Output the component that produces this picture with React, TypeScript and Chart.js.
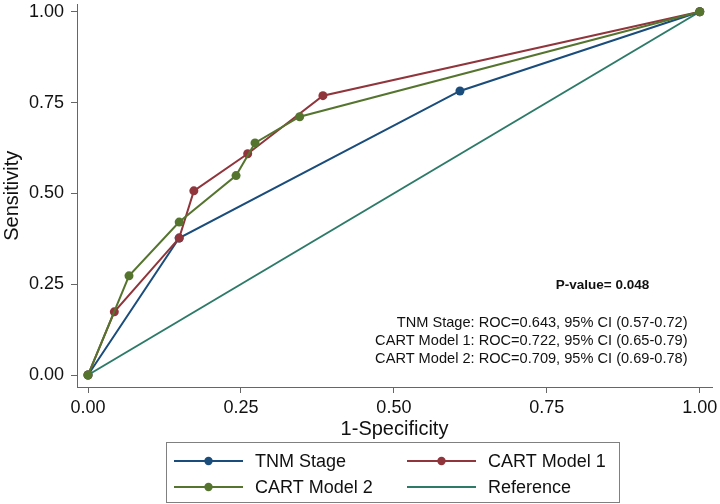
import React, { useEffect, useRef } from "react";
import { Chart, registerables } from "chart.js";

Chart.register(...registerables);

const FONT = "'Liberation Sans', Arial, sans-serif";

// ROC curve points (1-Specificity, Sensitivity)
const tnmX = [0, 0.149, 0.608, 1];
const tnmY = [0, 0.377, 0.782, 1];
const cart1X = [0, 0.043, 0.149, 0.173, 0.261, 0.384, 1];
const cart1Y = [0, 0.174, 0.377, 0.507, 0.609, 0.769, 1];
const cart2X = [0, 0.067, 0.149, 0.242, 0.273, 0.346, 1];
const cart2Y = [0, 0.273, 0.421, 0.549, 0.639, 0.711, 1];
const refX = [0, 1];
const refY = [0, 1];

const seriesNames = ["TNM Stage", "CART Model 1", "CART Model 2", "Reference"];
const seriesColors = ["#1a4d7c", "#90353b", "#55752f", "#2c7a67"];
const xTicks = [0, 0.25, 0.5, 0.75, 1];
const yTicks = [0, 0.25, 0.5, 0.75, 1];

const pValueText = "P-value= 0.048";
const rocTexts = [
  "TNM Stage: ROC=0.643, 95% CI (0.57-0.72)",
  "CART Model 1: ROC=0.722, 95% CI (0.65-0.79)",
  "CART Model 2: ROC=0.709, 95% CI (0.69-0.78)",
];

const toPts = (xs: number[], ys: number[]) => xs.map((x, i) => ({ x, y: ys[i] }));

export default function App() {
  const ref = useRef<HTMLCanvasElement | null>(null);

  useEffect(() => {
    if (!ref.current) return;

    const annotationPlugin = {
      id: "annot",
      afterDatasetsDraw(chart: any) {
        const { ctx, scales } = chart;
        const xs = scales.x, ys = scales.y;
        ctx.save();
        ctx.fillStyle = "#111";
        ctx.textBaseline = "middle";
        ctx.textAlign = "center";
        ctx.font = `bold 13.5px ${FONT}`;
        ctx.fillText(pValueText, xs.getPixelForValue(0.841), ys.getPixelForValue(0.248));
        ctx.font = `14.6px ${FONT}`;
        ctx.textAlign = "right";
        const rowY = [0.143, 0.094, 0.044];
        rocTexts.forEach((t, i) => {
          ctx.fillText(t, xs.getPixelForValue(0.98), ys.getPixelForValue(rowY[i]));
        });
        ctx.restore();
      },
    };

    const legendPlugin = {
      id: "boxLegend",
      afterDraw(chart: any) {
        const { ctx } = chart;
        const bx = 166, by = 442, bw = 453, bh = 60;
        ctx.save();
        ctx.strokeStyle = "#808080";
        ctx.lineWidth = 1;
        ctx.strokeRect(bx + 0.5, by + 0.5, bw, bh);
        const colX = [bx + 8, bx + 241];
        const rowY = [by + 19, by + 45];
        ctx.font = `18px ${FONT}`;
        ctx.textBaseline = "middle";
        ctx.textAlign = "left";
        seriesNames.forEach((name, i) => {
          const cx = colX[i % 2];
          const cy = rowY[Math.floor(i / 2)];
          ctx.strokeStyle = seriesColors[i];
          ctx.lineWidth = 2;
          ctx.beginPath();
          ctx.moveTo(cx, cy);
          ctx.lineTo(cx + 69, cy);
          ctx.stroke();
          if (i < 3) {
            ctx.fillStyle = seriesColors[i];
            ctx.beginPath();
            ctx.arc(cx + 34.5, cy, 4.2, 0, Math.PI * 2);
            ctx.fill();
          }
          ctx.fillStyle = "#111";
          ctx.fillText(name, cx + 81, cy + 1);
        });
        ctx.restore();
      },
    };

    const mk = (i: number, xs: number[], ys: number[], order: number, markers: boolean) => ({
      label: seriesNames[i],
      data: toPts(xs, ys),
      borderColor: seriesColors[i],
      backgroundColor: seriesColors[i],
      borderWidth: 2,
      pointRadius: markers ? 4.5 : 0,
      pointBorderWidth: 0,
      pointBackgroundColor: seriesColors[i],
      tension: 0,
      fill: false,
      order,
    });

    const chart = new Chart(ref.current, {
      type: "line",
      data: {
        datasets: [
          mk(0, tnmX, tnmY, 2, true),
          mk(1, cart1X, cart1Y, 1, true),
          mk(2, cart2X, cart2Y, 0, true),
          mk(3, refX, refY, 3, false),
        ],
      },
      options: {
        animation: false,
        responsive: false,
        devicePixelRatio: 1,
        layout: { padding: { left: 0, right: 8, top: 0, bottom: 62 } },
        plugins: { legend: { display: false }, tooltip: { enabled: false } },
        scales: {
          x: {
            type: "linear",
            min: -0.018,
            max: 1.02,
            afterBuildTicks: (s: any) => {
              s.ticks = xTicks.map((v) => ({ value: v }));
            },
            afterFit: (s: any) => {
              s.height = 55;
              s.paddingLeft = 0;
              s.paddingRight = 0;
            },
            grid: { drawOnChartArea: false, drawTicks: true, tickLength: 6, color: "#666" },
            border: { display: true, color: "#666", width: 1 },
            ticks: {
              color: "#111",
              font: { family: FONT, size: 18 },
              padding: 4,
              callback: (v: any) => Number(v).toFixed(2),
              maxRotation: 0,
            },
            title: {
              display: true,
              text: "1-Specificity",
              color: "#111",
              font: { family: FONT, size: 20 },
              padding: { top: 0, bottom: 1 },
            },
          },
          y: {
            type: "linear",
            min: -0.033,
            max: 1.02,
            afterBuildTicks: (s: any) => {
              s.ticks = yTicks.map((v) => ({ value: v }));
            },
            afterFit: (s: any) => {
              s.width = 77;
              s.paddingTop = 0;
              s.paddingBottom = 0;
            },
            grid: { drawOnChartArea: false, drawTicks: true, tickLength: 6, color: "#666" },
            border: { display: true, color: "#666", width: 1 },
            ticks: {
              color: "#111",
              font: { family: FONT, size: 18 },
              padding: 7,
              callback: (v: any) => Number(v).toFixed(2),
            },
            title: {
              display: true,
              text: "Sensitivity",
              color: "#111",
              font: { family: FONT, size: 20 },
              padding: { top: 0, bottom: 0 },
            },
          },
        },
      },
      plugins: [annotationPlugin, legendPlugin],
    });

    return () => chart.destroy();
  }, []);

  return (
    <div style={{ position: "fixed", left: 0, top: 0, width: 720, height: 504, background: "#fff" }}>
      <canvas ref={ref} width={720} height={504} />
    </div>
  );
}
